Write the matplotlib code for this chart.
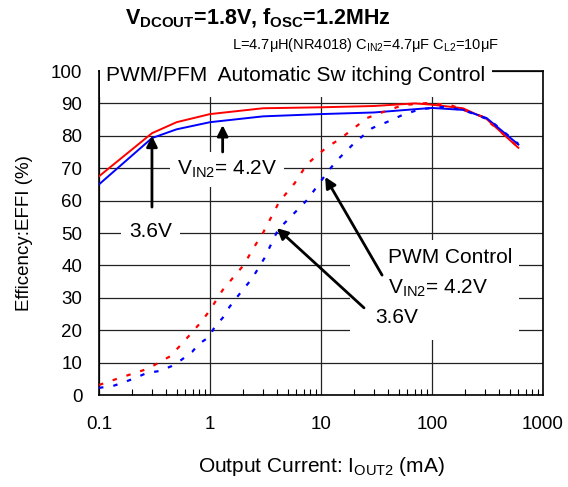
import matplotlib.pyplot as plt
from matplotlib.patches import Rectangle

plt.rcParams['font.family'] = ['Liberation Sans', 'DejaVu Sans']
plt.rcParams['mathtext.default'] = 'regular'

# PWM/PFM automatic switching (solid)
pfm_current = [0.1, 0.3, 0.5, 1, 3, 10, 30, 70, 100, 190, 310, 600]
pfm_36 = [67.5, 80.8, 84.2, 86.7, 88.5, 88.8, 89.2, 90.0, 89.6, 88.5, 85.2, 76.3]
pfm_42 = [65.0, 79.3, 82.0, 84.2, 86.0, 86.7, 87.2, 88.2, 88.6, 88.0, 85.5, 77.3]

# PWM control (dotted)
pwm36_current = [0.1, 0.134, 0.21, 0.27, 0.33, 0.44, 0.6, 0.83, 1, 1.3, 2, 2.5, 3,
                 4.2, 5.8, 7.5, 11.3, 14.8, 26, 34, 55, 90, 146, 290, 600]
pwm_36 = [3.1, 4.6, 6.8, 8.0, 9.6, 12, 17, 22.5, 26.2, 32.4, 40, 45.7, 50,
          59.6, 65.4, 71.3, 76.5, 79, 85.5, 87, 89.5, 90.1, 89.5, 85.8, 76.5]
pwm42_current = [0.1, 0.134, 0.17, 0.21, 0.27, 0.35, 0.45, 0.55, 0.69, 0.79, 0.98, 1.1,
                 1.3, 1.5, 1.75, 2.4, 3.1, 4.1, 7.5, 11.8, 14, 20, 29, 39, 54, 78,
                 125, 190, 330, 600]
pwm_42 = [2.2, 2.8, 4.0, 5.2, 6.8, 7.4, 8.9, 10.8, 13.3, 15.7, 17.9, 21,
          23.8, 27.2, 30.2, 36, 42.3, 51, 60.2, 69.4, 72.5, 77.8, 82.4, 84.2, 86.4, 88.2,
          88.9, 88.0, 84.9, 77.5]

fig = plt.figure(figsize=(5.68, 4.87), dpi=100)
ax = fig.add_axes([99/568, 1-395/487, 444/568, 324/487])

ax.plot(pfm_current, pfm_36, color='red', lw=1.4, zorder=3)
ax.plot(pfm_current, pfm_42, color='blue', lw=1.4, zorder=3)
ax.plot(pwm36_current, pwm_36, color='red', lw=1.6, ls=(0, (2, 4.5)), zorder=3)
ax.plot(pwm42_current, pwm_42, color='blue', lw=1.6, ls=(0, (2, 4.5)), zorder=3)

ax.set_xscale('log')
ax.set_xlim(0.1, 1000)
ax.set_ylim(0, 100)
ax.set_yticks(range(0, 101, 10))
ax.set_xticks([0.1, 1, 10, 100, 1000])
ax.set_xticklabels(['0.1', '1', '10', '100', '1000'])
ax.grid(True, which='major', color='#222222', lw=0.9)
ax.set_axisbelow(True)
ax.tick_params(axis='y', length=0, pad=12, labelsize=13.5)
ax.tick_params(axis='x', which='major', length=0, pad=15, labelsize=13.5)
ax.tick_params(axis='x', which='minor', direction='in', length=4, width=0.8)
for s in ax.spines.values():
    s.set_linewidth(1.2)

ax.set_xlabel('Output Current: I$_{OUT2}$ (mA)', fontsize=15, labelpad=16)
ax.set_ylabel('Efficency:EFFI (%)', fontsize=13.5, labelpad=13)

# white box behind the top label
ax.add_patch(Rectangle((0.002, 0.92), 0.883, 0.12, transform=ax.transAxes,
                       facecolor='white', edgecolor='none', zorder=4, clip_on=False))
ax.text(0.116, 98.6, 'PWM/PFM  Automatic Sw itching Control', fontsize=15,
        va='center', ha='left', zorder=5, clip_on=False)

# white box behind PWM labels
ax.add_patch(Rectangle((18.2, 17), 608 - 18.2, 30.8, facecolor='white',
                       edgecolor='none', zorder=1))

arrow = dict(arrowstyle='-|>', color='black', lw=2, mutation_scale=16, shrinkA=0, shrinkB=0)
ax.annotate('', xy=(0.3, 80), xytext=(0.3, 58), arrowprops=arrow, zorder=6)
ax.annotate('', xy=(1.3, 83.3), xytext=(1.3, 75), arrowprops=arrow, zorder=6)
ax.annotate('', xy=(10.9, 67.3), xytext=(35.5, 37), arrowprops=arrow, zorder=6)
ax.annotate('', xy=(4.0, 51.5), xytext=(24.4, 26.9), arrowprops=arrow, zorder=6)

ax.text(0.29, 50.5, '3.6V', fontsize=15, ha='center', va='center', zorder=5,
        bbox=dict(facecolor='white', edgecolor='none', pad=6))
ax.text(1.43, 69.6, 'V$_{IN2}$= 4.2V', fontsize=15, ha='center', va='center', zorder=5,
        bbox=dict(facecolor='white', edgecolor='none', pad=5))
ax.text(40.2, 42.3, 'PWM Control', fontsize=15, ha='left', va='center', zorder=5)
ax.text(40.2, 33, 'V$_{IN2}$= 4.2V', fontsize=15, ha='left', va='center', zorder=5)
ax.text(30.6, 23.8, '3.6V', fontsize=15, ha='left', va='center', zorder=5)

fig.text(0.454, 0.963, 'V$_{DCOUT}$=1.8V, f$_{OSC}$=1.2MHz', fontsize=15.5,
         fontweight='bold', ha='center', va='center')
fig.text(0.878, 0.908, 'L=4.7μH(NR4018) C$_{IN2}$=4.7μF C$_{L2}$=10μF', fontsize=10.5,
         ha='right', va='center')

fig.savefig('out.png', dpi=100)
